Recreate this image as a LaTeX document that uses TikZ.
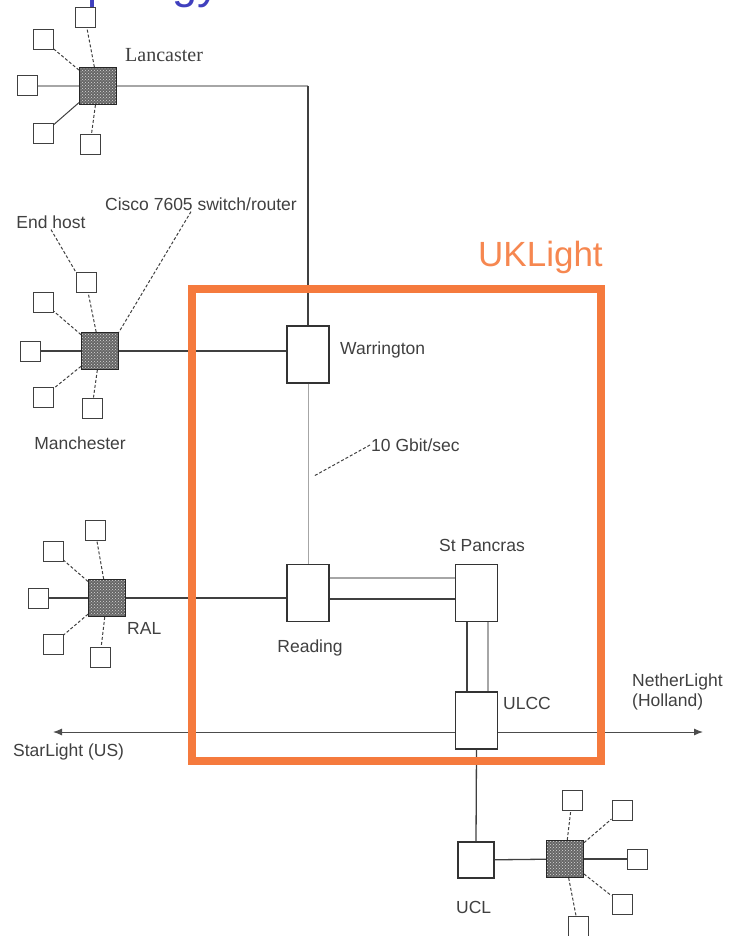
\documentclass[tikz,border=0pt]{standalone}
\usepackage{fontspec}
\setmainfont{Liberation Sans}
\newfontfamily\seriflab{Liberation Serif}
\usetikzlibrary{patterns,arrows.meta}
\definecolor{ukorange}{RGB}{245,122,61}
\definecolor{titleblue}{RGB}{64,64,190}
\tikzset{
  hub/.style={draw=black!85,line width=1pt,minimum size=37pt,inner sep=0pt,
    preaction={fill=black!60},pattern=crosshatch dots,pattern color=white!85!black},
  host/.style={draw=black!75,line width=1pt,fill=white,minimum size=20pt,inner sep=0pt},
  sitebox/.style={draw=black!80,line width=1.2pt,fill=white,minimum width=42pt,
    minimum height=57pt,inner sep=0pt},
  spoke/.style={black!75,line width=1pt,dash pattern=on 3pt off 2pt},
  darkline/.style={black!75,line width=1.3pt},
  greyline/.style={black!35,line width=1.3pt},
  lab/.style={text=black!75,font=\fontsize{17.5}{20}\selectfont,inner sep=1pt},
}
\begin{document}
\begin{tikzpicture}[x=1pt,y=-1pt]
\useasboundingbox (0,0) rectangle (729,936);
\node[anchor=base west,text=titleblue,font=\fontsize{45}{50}\selectfont,inner sep=0pt] (title) at (40,-1) {Topology};

% sites
\node[sitebox] (warr) at (308,354.5) {};
\node[sitebox] (read) at (308,593) {};
\node[sitebox] (stp) at (476.5,593) {};
\node[sitebox] (ulcc) at (476.5,720.5) {};
\node[sitebox,minimum width=36pt,minimum height=36pt] (uclsite) at (476,860) {};

% hubs
\node[hub] (lanc) at (98,86) {};
\node[hub] (manc) at (100,351) {};
\node[hub] (ral) at (107,598) {};
\node[hub] (uclhub) at (565,859) {};

% end hosts
\foreach \n/\x/\y in {la1/43/40,la2/85/18,la3/27/86,la4/43/134,la5/90/145,
                      m1/86/282,m2/43/302,m3/30/351,m4/43/397,m5/92/408,
                      r1/95/530,r2/53/551,r3/38/598,r4/53/644,r5/100/657,
                      u1/572/800,u2/622/810,u3/637/859,u4/622/904,u5/578/926}
  \node[host] (\n) at (\x,\y) {};

\foreach \n in {la1,la2,la5} \draw[spoke] (lanc) -- (\n);
\draw[darkline,line width=1pt] (lanc) -- (la4);
\foreach \n in {m1,m2,m4,m5} \draw[spoke] (manc) -- (\n);
\foreach \n in {r1,r2,r4,r5} \draw[spoke] (ral) -- (\n);
\foreach \n in {u1,u2,u4,u5} \draw[spoke] (uclhub) -- (\n);
\draw[darkline] (m3) -- (manc);
\draw[darkline] (r3) -- (ral);
\draw[darkline] (uclhub) -- (u3);

% links
\coordinate (lcorner) at (308,86);
\draw[greyline] (la3) -- (lanc);
\draw[greyline] (lanc) -- (lcorner);
\draw[darkline] (lcorner) -- (warr.north);
\draw[darkline] (manc) -- (manc -| warr.west);
\draw[greyline,line width=1pt] (warr.south) -- (read.north);
\draw[darkline] (ral) -- (ral -| read.west);
\draw[greyline] ([yshift=15pt]read.east) -- ([yshift=15pt]stp.west);
\draw[darkline] ([yshift=-6pt]read.east) -- ([yshift=-6pt]stp.west);
\draw[darkline] ([xshift=-9.5pt]stp.south) -- ([xshift=-9.5pt]ulcc.north);
\draw[greyline] ([xshift=11.5pt]stp.south) -- ([xshift=11.5pt]ulcc.north);
\draw[darkline] (ulcc.south) -- (uclsite.north);
\draw[darkline] (uclsite) -- (uclhub);

\coordinate (star) at (53,732);
\coordinate (neth) at (703,732);
\draw[black!70,line width=1pt,{Latex[length=9pt,width=7pt]}-] (star) -- (star -| ulcc.west);
\draw[black!70,line width=1pt,-{Latex[length=9pt,width=7pt]}] (neth -| ulcc.east) -- (neth);

% labels
\node[lab,anchor=west,font=\seriflab\fontsize{20}{22}\selectfont] (lanclab) at (124,55) {Lancaster};
\node[lab] (endlab) at (51,222) {End host};
\node[lab] (ciscolab) at (201,204) {Cisco 7605 switch/router};
\draw[spoke] (endlab.south) -- (m1.north west);
\draw[spoke] ([xshift=-10pt]ciscolab.south) -- (manc.north east);
\node[lab] (manclab) at (80,443) {Manchester};
\node[lab,anchor=west] (warrlab) at (339,350) {Warrington};
\node[lab,anchor=west] (gbit) at (370,445) {10 Gbit/sec};
\coordinate (gbtip) at (314,476);
\draw[spoke] (gbit.west) -- (gbtip);
\node[lab,anchor=west] (rallab) at (126,628) {RAL};
\node[lab] (readlab) at (310,648) {Reading};
\node[lab] (stplab) at (482,545) {St Pancras};
\node[lab,anchor=west] (ulcclab) at (502,703) {ULCC};
\node[lab,anchor=west] (starlab) at (12,752) {StarLight (US)};
\node[lab,anchor=north west,align=left] (nethlab) at (631,673) {NetherLight\\(Holland)};
\node[lab,anchor=west] (ucllab) at (455,907) {UCL};

% UKLight domain
\draw[ukorange,line width=8pt] (192,289) rectangle (601,761);
\node[anchor=base west,text=ukorange!90,font=\fontsize{35}{40}\selectfont,inner sep=0pt] (uklab) at (478,266) {UKLight};
\end{tikzpicture}
\end{document}
